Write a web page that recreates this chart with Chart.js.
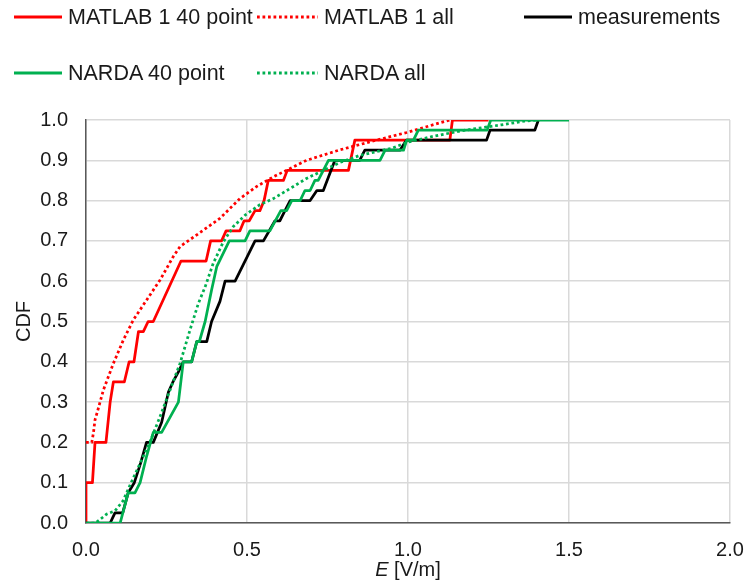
<!DOCTYPE html>
<html>
<head>
<meta charset="utf-8">
<script src="https://cdn.jsdelivr.net/npm/chart.js@4.4.1/dist/chart.umd.min.js"></script>
<style>
    body { margin: 0; background: #fff; }
    #wrap { position: relative; width: 744px; height: 583px; font-family: 'Liberation Sans', Arial, sans-serif; color: #1a1a1a; }
    #cdf-chart { position: absolute; left: 0; top: 0; }
    .legend-item { position: absolute; height: 24px; display: flex; align-items: center; font-size: 21.5px; white-space: nowrap; }
    .legend-item svg { margin-right: 6px; }
    #x-title { position: absolute; left: 0; width: 816px; top: 558px; text-align: center; font-size: 20px; }
</style>
</head>
<body>
<div id="wrap">
    <canvas id="cdf-chart" width="744" height="583"></canvas>
    <div id="legend"></div>
    <div id="x-title"><i>E</i> [V/m]</div>
</div>
<script>
"use strict";

// MATLAB 1, 40 point sample
const matlab40X = [0, 0, 0.02, 0.028, 0.062, 0.075, 0.085, 0.119, 0.134, 0.149, 0.163, 0.178, 0.193, 0.209, 0.295, 0.373, 0.387, 0.421, 0.435, 0.478, 0.491, 0.507, 0.525, 0.54, 0.553, 0.566, 0.613, 0.625, 0.815, 0.835, 1.13, 1.138, 1.25];
const matlab40Y = [0, 0.1, 0.1, 0.2, 0.2, 0.3, 0.35, 0.35, 0.4, 0.4, 0.475, 0.475, 0.5, 0.5, 0.65, 0.65, 0.7, 0.7, 0.725, 0.725, 0.75, 0.75, 0.775, 0.775, 0.8, 0.85, 0.85, 0.875, 0.875, 0.95, 0.95, 1.0, 1.0];

// MATLAB 1, all points
const matlabAllX = [0, 0.018, 0.023, 0.028, 0.035, 0.054, 0.085, 0.116, 0.147, 0.188, 0.23, 0.271, 0.292, 0.344, 0.416, 0.478, 0.53, 0.582, 0.685, 0.789, 0.892, 0.996, 1.099, 1.13];
const matlabAllY = [0.2, 0.2, 0.223, 0.256, 0.275, 0.33, 0.396, 0.454, 0.504, 0.553, 0.603, 0.661, 0.686, 0.715, 0.756, 0.805, 0.835, 0.859, 0.9, 0.926, 0.948, 0.969, 0.993, 1.0];

// measurements
const measX = [0, 0.075, 0.09, 0.114, 0.131, 0.15, 0.17, 0.188, 0.209, 0.235, 0.256, 0.27, 0.287, 0.302, 0.328, 0.344, 0.375, 0.39, 0.416, 0.432, 0.463, 0.525, 0.551, 0.587, 0.602, 0.618, 0.634, 0.696, 0.717, 0.737, 0.773, 0.85, 0.866, 0.975, 0.995, 1.244, 1.255, 1.394, 1.405];
const measY = [0, 0, 0.025, 0.025, 0.075, 0.1, 0.15, 0.2, 0.2, 0.25, 0.325, 0.35, 0.375, 0.4, 0.4, 0.45, 0.45, 0.5, 0.55, 0.6, 0.6, 0.7, 0.7, 0.75, 0.75, 0.775, 0.8, 0.8, 0.825, 0.825, 0.9, 0.9, 0.925, 0.925, 0.95, 0.95, 0.975, 0.975, 1.0];

// NARDA, 40 point sample
const narda40X = [0, 0.106, 0.131, 0.152, 0.168, 0.188, 0.209, 0.235, 0.287, 0.302, 0.328, 0.344, 0.352, 0.37, 0.39, 0.406, 0.445, 0.494, 0.509, 0.571, 0.605, 0.623, 0.639, 0.665, 0.68, 0.696, 0.711, 0.721, 0.737, 0.753, 0.913, 0.929, 0.986, 0.996, 1.017, 1.032, 1.246, 1.257, 1.5];
const narda40Y = [0, 0, 0.075, 0.075, 0.1, 0.165, 0.225, 0.225, 0.3, 0.4, 0.4, 0.45, 0.45, 0.5, 0.578, 0.636, 0.7, 0.7, 0.725, 0.725, 0.775, 0.775, 0.8, 0.8, 0.825, 0.825, 0.85, 0.85, 0.875, 0.9, 0.9, 0.925, 0.925, 0.95, 0.95, 0.975, 0.975, 1.0, 1.0];

// NARDA, all points
const nardaAllX = [0, 0.03, 0.064, 0.09, 0.115, 0.14, 0.168, 0.199, 0.23, 0.261, 0.292, 0.323, 0.349, 0.37, 0.395, 0.426, 0.457, 0.494, 0.54, 0.582, 0.634, 0.685, 0.737, 0.79, 0.85, 0.95, 1.0, 1.08, 1.18, 1.29, 1.36, 1.4];
const nardaAllY = [0, 0, 0.022, 0.03, 0.055, 0.1, 0.148, 0.202, 0.264, 0.33, 0.396, 0.479, 0.545, 0.586, 0.644, 0.697, 0.735, 0.764, 0.79, 0.805, 0.83, 0.855, 0.875, 0.895, 0.912, 0.93, 0.945, 0.96, 0.975, 0.988, 0.997, 1.0];

const xTicks = [0, 0.5, 1.0, 1.5, 2.0];
const yTicks = [0, 0.1, 0.2, 0.3, 0.4, 0.5, 0.6, 0.7, 0.8, 0.9, 1.0];

const RED = '#ff0000';
const GREEN = '#00b050';
const BLACK = '#000000';
const DOTS = [2.75, 2.75];

const seriesDefs = [
    { label: 'MATLAB 1 40 point', xs: matlab40X, ys: matlab40Y, color: RED, dotted: false },
    { label: 'MATLAB 1 all', xs: matlabAllX, ys: matlabAllY, color: RED, dotted: true },
    { label: 'measurements', xs: measX, ys: measY, color: BLACK, dotted: false },
    { label: 'NARDA 40 point', xs: narda40X, ys: narda40Y, color: GREEN, dotted: false },
    { label: 'NARDA all', xs: nardaAllX, ys: nardaAllY, color: GREEN, dotted: true }
];

// legend positions (left of sample, vertical centre)
const legendPos = [[14, 17], [257, 17], [524, 17], [14, 73], [257, 73]];

function buildLegend() {
    const box = document.getElementById('legend');
    seriesDefs.forEach((s, i) => {
        const item = document.createElement('div');
        item.className = 'legend-item';
        item.style.left = legendPos[i][0] + 'px';
        item.style.top = (legendPos[i][1] - 12) + 'px';
        const w = s.dotted ? 61 : 48;
        const dash = s.dotted ? ' stroke-dasharray="2.75 2.75"' : '';
        item.innerHTML = '<svg width="' + w + '" height="6"><line x1="0" y1="3" x2="' + w + '" y2="3" stroke="' + s.color +
            '" stroke-width="3"' + dash + '/></svg><span>' + s.label + '</span>';
        box.appendChild(item);
    });
}

function buildDatasets() {
    return seriesDefs.map((s, i) => ({
        label: s.label,
        data: s.xs.map((x, k) => ({ x: x, y: s.ys[k] })),
        showLine: true,
        borderColor: s.color,
        backgroundColor: s.color,
        borderWidth: 2.75,
        borderDash: s.dotted ? DOTS : [],
        borderJoinStyle: 'round',
        pointRadius: 0,
        tension: 0,
        fill: false,
        // later series on top, like the source
        order: seriesDefs.length - i
    }));
}

document.addEventListener('DOMContentLoaded', function() {
    buildLegend();

    const tickFont = { family: "'Liberation Sans', Arial, sans-serif", size: 20 };
    const tickColor = '#1a1a1a';

    new Chart(document.getElementById('cdf-chart').getContext('2d'), {
        type: 'scatter',
        data: { datasets: buildDatasets() },
        options: {
            responsive: false,
            animation: false,
            layout: { padding: { top: 120, right: 0, left: 0, bottom: 0 } },
            plugins: {
                legend: { display: false },
                tooltip: { enabled: false }
            },
            scales: {
                x: {
                    type: 'linear',
                    min: 0,
                    max: 2,
                    afterBuildTicks: (scale) => { scale.ticks = xTicks.map(v => ({ value: v })); },
                    ticks: {
                        font: tickFont,
                        color: tickColor,
                        padding: 15,
                        maxRotation: 0,
                        callback: (value) => value.toFixed(1)
                    },
                    grid: { color: '#d9d9d9', lineWidth: 1.5, drawTicks: false },
                    border: { color: '#595959', width: 1.5 },
                    afterFit: (scale) => {
                        scale.height = 60;
                        scale.paddingRight = 14;
                    }
                },
                y: {
                    type: 'linear',
                    min: 0,
                    max: 1,
                    afterBuildTicks: (scale) => { scale.ticks = yTicks.map(v => ({ value: v })); },
                    ticks: {
                        font: tickFont,
                        color: tickColor,
                        padding: 18,
                        callback: (value) => value.toFixed(1)
                    },
                    grid: { color: '#d9d9d9', lineWidth: 1.5, drawTicks: false },
                    border: { color: '#595959', width: 1.5 },
                    title: {
                        display: true,
                        text: 'CDF',
                        font: tickFont,
                        color: tickColor,
                        padding: { top: 12, bottom: 0 }
                    },
                    afterFit: (scale) => { scale.width = 86; }
                }
            }
        }
    });
});
</script>
</body>
</html>
